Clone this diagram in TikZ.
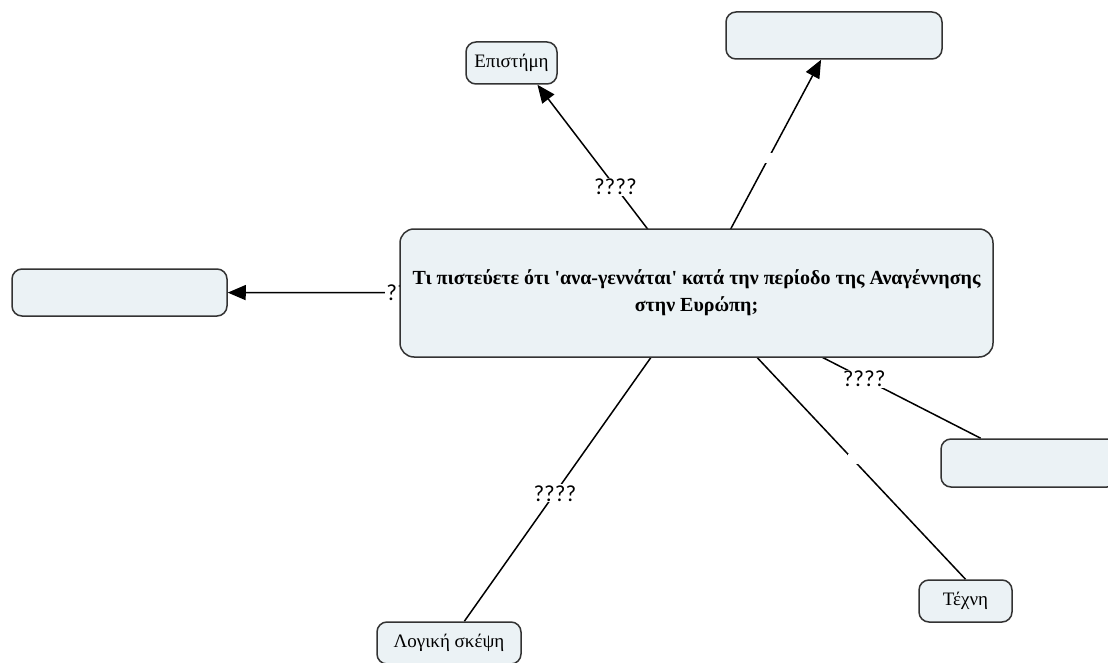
\documentclass[tikz,border=0pt]{standalone}
\usepackage{fontspec}
\setmainfont{Liberation Serif}
\newfontfamily\lblfont{Carlito}
\usetikzlibrary{arrows.meta,backgrounds}
\definecolor{boxfill}{HTML}{EBF2F5}
\definecolor{boxline}{HTML}{333333}
\begin{document}
\begin{tikzpicture}[x=1pt,y=-1pt,
  concept/.style={draw=boxline, line width=1.5pt, fill=boxfill, rounded corners=10pt,
    align=center, inner sep=2pt, font=\fontsize{19}{23}\selectfont},
  conn/.style={draw=black, line width=1.5pt},
  arr/.style={-{Triangle[length=18pt,width=15pt]}},
  lbl/.style={fill=white, inner sep=1pt, font=\lblfont\fontsize{23}{26}\selectfont},
  gapmark/.style={fill=white, inner sep=0pt, minimum size=10pt}]
\useasboundingbox (0,0) rectangle (1108,663);
\clip (0,0) rectangle (1108,663);
\node[concept, minimum width=593pt, minimum height=128pt, rounded corners=14pt,
  font=\bfseries\fontsize{20}{27}\selectfont] (c) at (696.5,293)
  {Τι πιστεύετε ότι \textquotesingle ανα-γεννάται\textquotesingle{} κατά την περίοδο της Αναγέννησης\\στην Ευρώπη;};
\node[concept, minimum width=91pt, minimum height=42pt] (epi) at (511.5,63) {Επιστήμη};
\node[concept, minimum width=216pt, minimum height=47pt] (tr) at (834,35.5) {};
\node[concept, minimum width=215pt, minimum height=47pt] (lb) at (119.5,292.5) {};
\node[concept, minimum width=176pt, minimum height=48pt] (rb) at (1029,463) {};
\node[concept, minimum width=93pt, minimum height=42pt] (tex) at (965.5,601) {Τέχνη};
\node[concept, minimum width=144pt, minimum height=42pt] (log) at (449,643) {Λογική σκέψη};
\begin{scope}[on background layer]
\draw[conn,arr] (c.center) -- node[lbl,pos=0.51]{????} (epi.-40);
\draw[conn,arr] (c.center) -- node[gapmark,pos=0.577]{} (tr);
\draw[conn,arr] (c.center) -- node[lbl,pos=0.616]{????} (lb);
\draw[conn] (c.center) -- node[lbl,pos=0.59]{????} (rb);
\draw[conn] (c.center) -- node[gapmark,pos=0.58]{} (tex.north);
\draw[conn] (c.center) -- node[lbl,pos=0.61]{????} (log);
\end{scope}
\end{tikzpicture}
\end{document}
